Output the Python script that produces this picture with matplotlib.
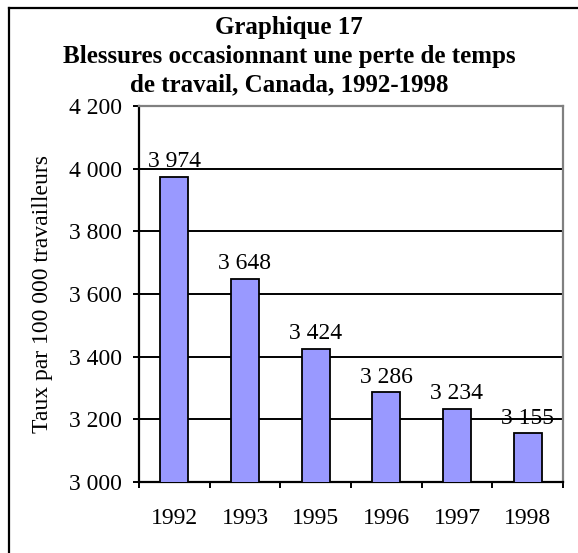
import matplotlib
matplotlib.use("Agg")
import matplotlib.pyplot as plt
from matplotlib.lines import Line2D

years = ["1992", "1993", "1995", "1996", "1997", "1998"]
rates = [3974, 3648, 3424, 3286, 3234, 3155]
yticks = [3000, 3200, 3400, 3600, 3800, 4000, 4200]


def fr(v):
    # French thousands separator (space)
    return f"{v:,}".replace(",", " ")


plt.rcParams["font.family"] = ["Liberation Serif", "DejaVu Serif"]
fs = 17

fig = plt.figure(figsize=(5.78, 5.53), dpi=100)
ax = fig.add_axes([139 / 578, 1 - 482 / 553, 424 / 578, 376 / 553])

x = range(len(years))
ax.bar(x, rates, width=0.40, color="#9999ff", edgecolor="black", linewidth=1.3, zorder=3)
for i, v in zip(x, rates):
    ax.annotate(fr(v), (i, v), xytext=(0, 11), textcoords="offset points",
                ha="center", va="center", fontsize=fs, zorder=4)

ax.set_ylim(3000, 4200)
ax.set_xlim(-0.5, len(years) - 0.5)
ax.set_yticks(yticks)
ax.set_yticklabels([fr(t) for t in yticks], fontsize=fs)
ax.yaxis.grid(True, color="black", linewidth=1.4, zorder=0)

ax.set_xticks([i - 0.5 for i in range(len(years) + 1)], minor=False)
ax.set_xticklabels([])
ax.set_xticks(list(x), minor=True)
ax.set_xticklabels(years, minor=True, fontsize=fs)
ax.tick_params(axis="x", which="minor", length=0, pad=19)
ax.tick_params(axis="x", which="major", direction="out", length=4.5, width=1.4)
ax.tick_params(axis="y", direction="out", length=4.5, width=1.4, pad=8)

for s in ["top", "right"]:
    ax.spines[s].set_color("#808080")
    ax.spines[s].set_linewidth(1.6)
for s in ["left", "bottom"]:
    ax.spines[s].set_linewidth(1.6)

ax.set_ylabel("Taux par 100 000 travailleurs", fontsize=fs, labelpad=11)

fig.text(0.5, 1 - 27.5 / 553, "Graphique 17", ha="center", va="center",
         fontsize=18, fontweight="bold")
fig.text(0.5, 1 - 56.5 / 553, "Blessures occasionnant une perte de temps", ha="center",
         va="center", fontsize=18, fontweight="bold")
fig.text(0.5, 1 - 84.5 / 553, "de travail, Canada, 1992-1998", ha="center", va="center",
         fontsize=18, fontweight="bold")

# outer frame, cut off at the right and bottom edges like the reference
fx, fy = 8.5 / 578, 1 - 7.5 / 553
fig.add_artist(Line2D([fx, 1.0], [fy, fy], transform=fig.transFigure, color="black", lw=1.6))
fig.add_artist(Line2D([fx, fx], [0.0, fy], transform=fig.transFigure, color="black", lw=1.6))

fig.savefig("out.png", dpi=100)
